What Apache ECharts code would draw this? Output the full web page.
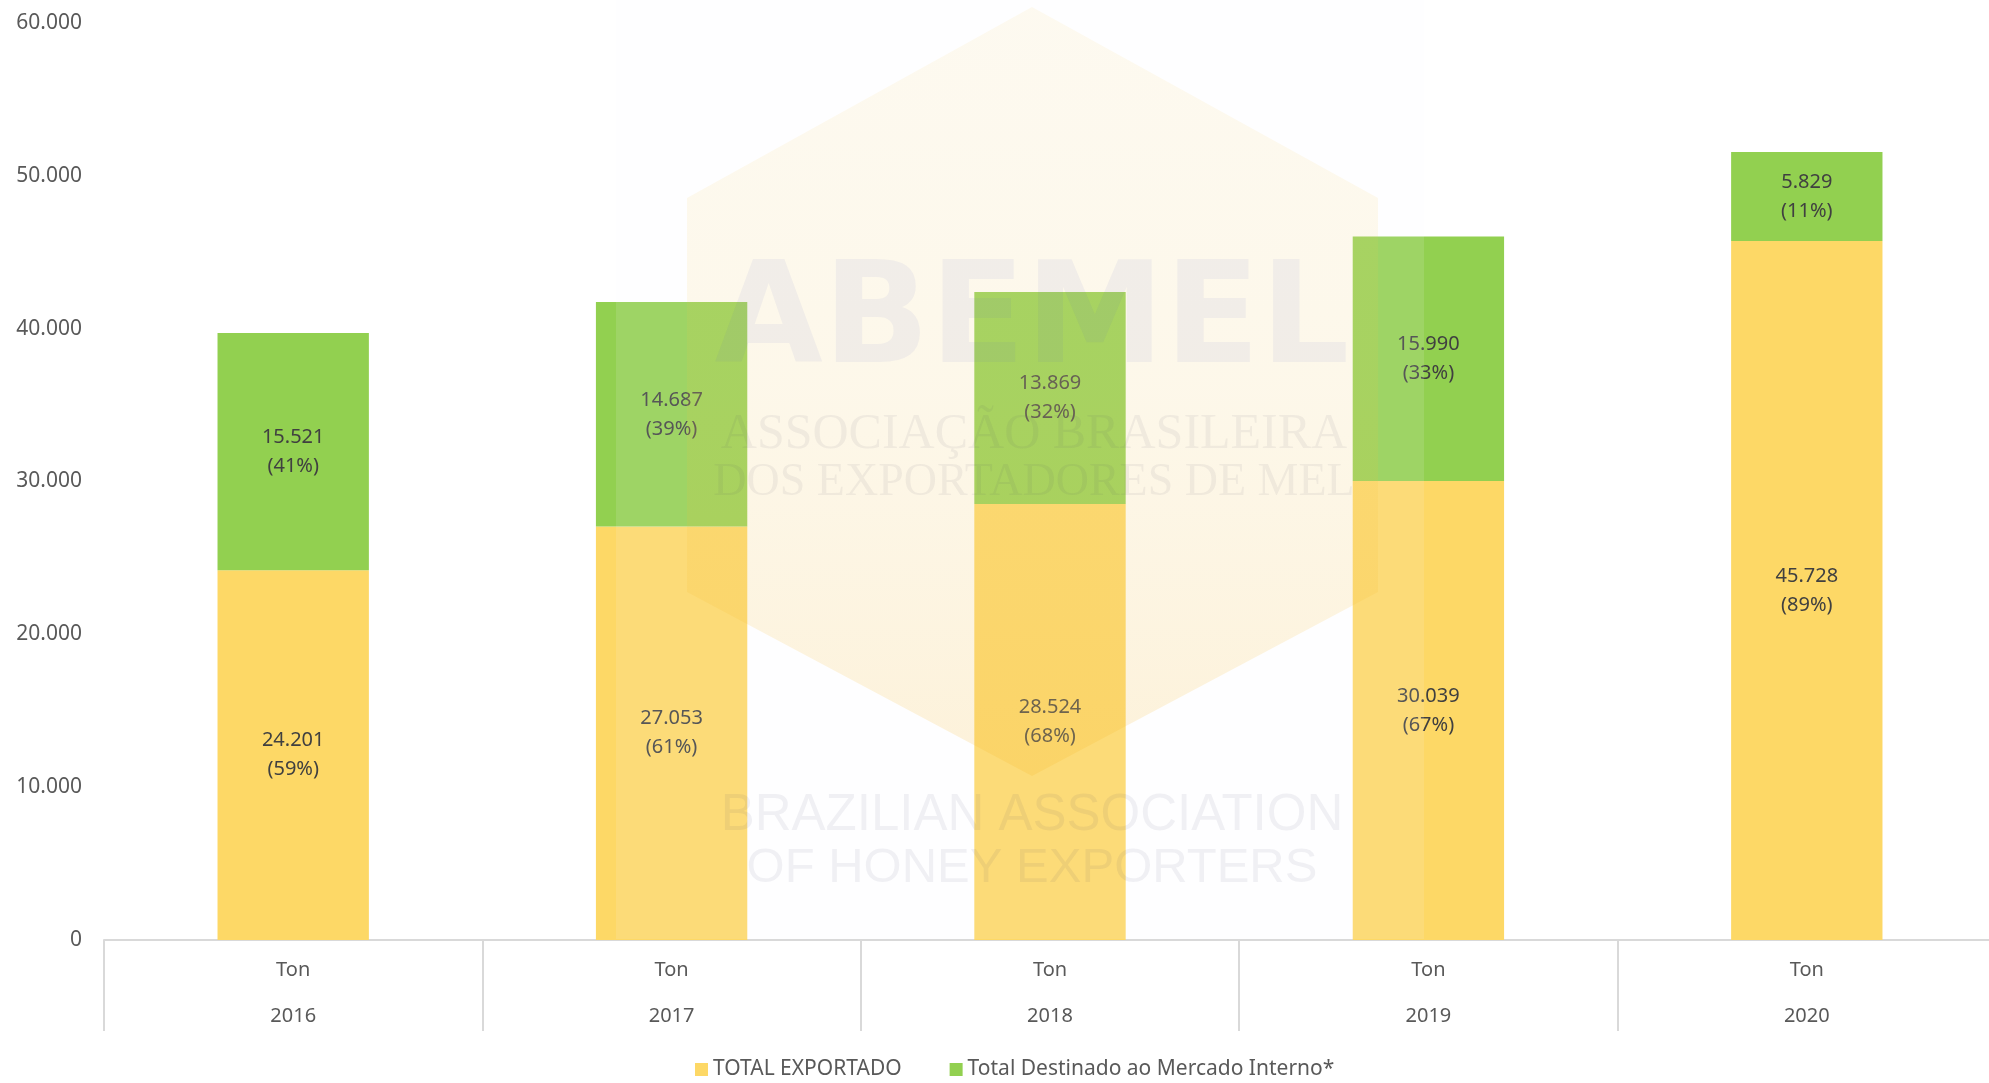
<!DOCTYPE html>
<html>
<head>
<meta charset="utf-8">
<script src="https://cdn.jsdelivr.net/npm/echarts@6/dist/echarts.min.js"></script>
<style>
html,body{margin:0;padding:0;background:#fff;}
#main{width:1989px;height:1083px;}
</style>
</head>
<body>
<div id="main"></div>
<script>
const years = ['2016', '2017', '2018', '2019', '2020'];
const unitLabel = 'Ton';
const exported = [24201, 27053, 28524, 30039, 45728];
const exportedPct = [59, 61, 68, 67, 89];
const domestic = [15521, 14687, 13869, 15990, 5829];
const domesticPct = [41, 39, 32, 33, 11];
const seriesNames = ['TOTAL EXPORTADO', 'Total Destinado ao Mercado Interno*'];
const yTicks = { min: 0, max: 60000, interval: 10000 };

function fmt(v) { return String(v).replace(/\B(?=(\d{3})+(?!\d))/g, '.'); }

const FONT = 'Noto Sans';
const chart = echarts.init(document.getElementById('main'));

const labelStyle = function (pcts) {
  return {
    show: true,
    position: 'inside',
    color: '#404040',
    fontFamily: FONT,
    fontSize: 20,
    lineHeight: 29,
    formatter: function (p) { return fmt(p.value) + '\n(' + pcts[p.dataIndex] + '%)'; }
  };
};

const WZ = 100;

chart.setOption({
  backgroundColor: '#ffffff',
  animation: false,
  textStyle: { fontFamily: FONT },
  grid: { left: 104, right: -7, top: 23, bottom: 143, outerBoundsMode: 'none', containLabel: false },
  legend: {
    top: 1054,
    left: 690,
    icon: 'rect',
    itemWidth: 13,
    itemHeight: 13,
    itemGap: 48,
    textStyle: { color: '#595959', fontSize: 21, fontFamily: FONT },
    data: seriesNames
  },
  xAxis: {
    type: 'category',
    data: years,
    axisLine: { lineStyle: { color: '#d9d9d9', width: 2 } },
    axisTick: { show: true, length: 91, lineStyle: { color: '#d9d9d9', width: 2 } },
    axisLabel: {
      margin: 7,
      formatter: function (v) { return '{a|' + unitLabel + '}\n{b|' + v + '}'; },
      rich: {
        a: { color: '#595959', fontSize: 20, lineHeight: 46, fontFamily: FONT },
        b: { color: '#595959', fontSize: 20, lineHeight: 46, fontFamily: FONT }
      }
    }
  },
  yAxis: {
    type: 'value',
    min: yTicks.min,
    max: yTicks.max,
    interval: yTicks.interval,
    axisLine: { show: false },
    axisTick: { show: false },
    splitLine: { show: false },
    axisLabel: { color: '#595959', fontSize: 21, margin: 22, fontFamily: FONT, formatter: fmt }
  },
  series: [
    {
      name: seriesNames[0],
      type: 'bar',
      stack: 'total',
      barWidth: '40%',
      itemStyle: { color: '#FDD866' },
      label: labelStyle(exportedPct),
      data: exported
    },
    {
      name: seriesNames[1],
      type: 'bar',
      stack: 'total',
      barWidth: '40%',
      itemStyle: { color: '#92D050' },
      label: labelStyle(domesticPct),
      data: domestic
    }
  ],
  graphic: [
    { type: 'rect', z: WZ, silent: true, shape: { x: 616, y: 0, width: 808, height: 939 },
      style: { fill: 'rgba(248,249,252,0.12)' } },
    { type: 'polygon', z: WZ, silent: true,
      shape: { points: [[1032, 7], [1378, 198], [1378, 592], [1032, 776], [687, 592], [687, 198]] },
      style: { fill: new echarts.graphic.LinearGradient(0, 0, 0, 1, [
        { offset: 0, color: 'rgba(245,205,90,0.09)' },
        { offset: 0.5, color: 'rgba(245,195,60,0.11)' },
        { offset: 1, color: 'rgba(245,175,20,0.16)' }
      ]) } },
    { type: 'text', z: WZ + 1, silent: true, x: 1032, y: 326,
      style: { text: 'ABEMEL', fontSize: 140, fontWeight: 'bold', fontFamily: 'DejaVu Sans',
               fill: 'rgba(90,105,200,0.07)', align: 'center', verticalAlign: 'middle' } },
    { type: 'text', z: WZ + 1, silent: true, x: 1034, y: 435,
      style: { text: 'ASSOCIAÇÃO BRASILEIRA', fontSize: 50, fontFamily: 'Liberation Serif',
               fill: 'rgba(70,70,100,0.07)', align: 'center', verticalAlign: 'middle' } },
    { type: 'text', z: WZ + 1, silent: true, x: 1034, y: 483,
      style: { text: 'DOS EXPORTADORES DE MEL', fontSize: 46, fontFamily: 'Liberation Serif',
               fill: 'rgba(70,70,100,0.07)', align: 'center', verticalAlign: 'middle' } },
    { type: 'text', z: WZ + 1, silent: true, x: 1032, y: 816,
      style: { text: 'BRAZILIAN ASSOCIATION', fontSize: 51, fontFamily: 'Liberation Sans',
               fill: 'rgba(60,60,100,0.07)', align: 'center', verticalAlign: 'middle' } },
    { type: 'text', z: WZ + 1, silent: true, x: 1032, y: 868,
      style: { text: 'OF HONEY EXPORTERS', fontSize: 49, fontFamily: 'Liberation Sans',
               fill: 'rgba(60,60,100,0.07)', align: 'center', verticalAlign: 'middle' } }
  ]
});
</script>
</body>
</html>
